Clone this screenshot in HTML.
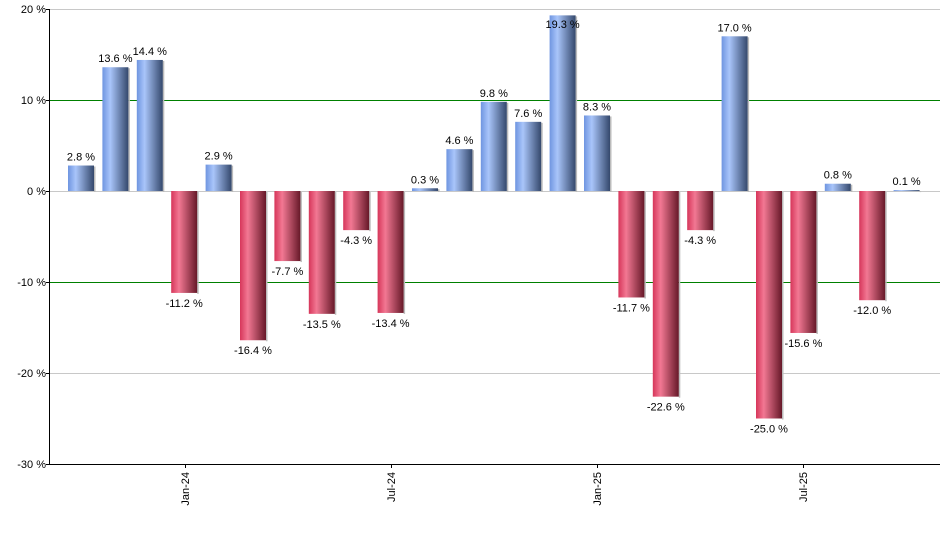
<!DOCTYPE html>
<html><head><style>body{margin:0;background:#fff}svg{display:block}text{font-family:"Liberation Sans",Arial,sans-serif;font-size:11px;fill:#000}</style></head>
<body>
<svg width="940" height="550" xmlns="http://www.w3.org/2000/svg">
<defs>
<linearGradient id="b" x1="0" x2="1" y1="0" y2="0"><stop offset="0" stop-color="#6f95e0"/><stop offset="0.3" stop-color="#a9c5fa"/><stop offset="1" stop-color="#34486c"/></linearGradient>
<linearGradient id="r" x1="0" x2="1" y1="0" y2="0"><stop offset="0" stop-color="#d6365a"/><stop offset="0.3" stop-color="#f27893"/><stop offset="1" stop-color="#661828"/></linearGradient>
</defs>
<g stroke="#c8c8c8" stroke-width="1">
<line x1="49" x2="940" y1="9.5" y2="9.5"/><line x1="49" x2="940" y1="191.5" y2="191.5"/><line x1="49" x2="940" y1="373.5" y2="373.5"/>
</g>
<g stroke="#008000" stroke-width="1"><line x1="49" x2="940" y1="100.5" y2="100.5"/><line x1="49" x2="940" y1="282.5" y2="282.5"/></g>
<g id="bars"></g>
<line x1="49.5" x2="49.5" y1="9" y2="465" stroke="#000"/>
<line x1="49" x2="940" y1="464.5" y2="464.5" stroke="#000"/>
<g text-anchor="end">
<text x="46" y="13">20 %</text><text x="46" y="104">10 %</text><text x="46" y="195">0 %</text><text x="46" y="286">-10 %</text><text x="46" y="377">-20 %</text><text x="46" y="468">-30 %</text>
</g>
<g stroke="#000"><line x1="46" x2="49" y1="9.5" y2="9.5"/><line x1="46" x2="49" y1="100.5" y2="100.5"/><line x1="46" x2="49" y1="191.5" y2="191.5"/><line x1="46" x2="49" y1="282.5" y2="282.5"/><line x1="46" x2="49" y1="373.5" y2="373.5"/><line x1="46" x2="49" y1="464.5" y2="464.5"/>
<line x1="185.5" x2="185.5" y1="464" y2="468"/><line x1="391.5" x2="391.5" y1="464" y2="468"/><line x1="597.5" x2="597.5" y1="464" y2="468"/><line x1="803.5" x2="803.5" y1="464" y2="468"/></g>
<g text-anchor="end">
<text transform="translate(189,472) rotate(-90)">Jan-24</text>
<text transform="translate(395,472) rotate(-90)">Jul-24</text>
<text transform="translate(601,472) rotate(-90)">Jan-25</text>
<text transform="translate(807,472) rotate(-90)">Jul-25</text>
</g>
<g id="labels" text-anchor="middle"></g>
<script>
var v=[2.8,13.6,14.4,-11.2,2.9,-16.4,-7.7,-13.5,-4.3,-13.4,0.3,4.6,9.8,7.6,19.3,8.3,-11.7,-22.6,-4.3,17.0,-25.0,-15.6,0.8,-12.0,0.1];
var ns="http://www.w3.org/2000/svg",B=document.getElementById("bars"),L=document.getElementById("labels");
v.forEach(function(d,i){var c=81+i*34.4,x=c-13,h=Math.abs(d)*9.1,y=d>=0?191-h:191;
var s=document.createElementNS(ns,"rect");s.setAttribute("x",x+26);s.setAttribute("y",y+1);s.setAttribute("width",1.5);s.setAttribute("height",Math.max(h,1));s.setAttribute("fill","#bbb");B.appendChild(s);
var r=document.createElementNS(ns,"rect");r.setAttribute("x",x);r.setAttribute("y",y);r.setAttribute("width",26);r.setAttribute("height",Math.max(h,1));r.setAttribute("fill",d>=0?"url(#b)":"url(#r)");B.appendChild(r);
var t=document.createElementNS(ns,"text");t.setAttribute("x",c);t.setAttribute("y",d>=0?Math.max(y-5,28):y+h+14);t.textContent=d.toFixed(1)+" %";L.appendChild(t);});
</script>
</svg>
</body></html>
